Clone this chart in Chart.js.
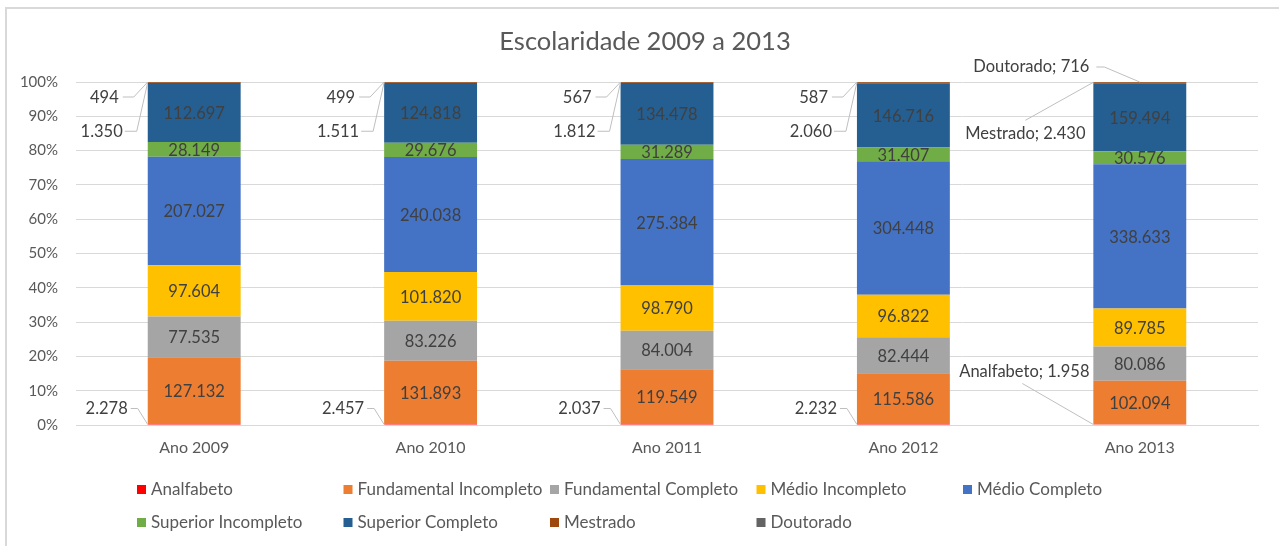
<!DOCTYPE html>
<html>
<head>
<meta charset="utf-8">
<script src="https://cdn.jsdelivr.net/npm/chart.js"></script>
<style>
  body { margin: 0; overflow: hidden; background: #fff; }
  #frame { position: absolute; left: 5px; top: 7px; width: 1400px; height: 700px;
           border-top: 2px solid #d9d9d9; border-left: 2px solid #d9d9d9; }
  #chart { position: absolute; left: 0; top: 0; }
</style>
</head>
<body>
<div id="frame"></div>
<canvas id="chart" width="1279" height="546"></canvas>
<script>
// data
const anos = ['Ano 2009', 'Ano 2010', 'Ano 2011', 'Ano 2012', 'Ano 2013'];
const analfabeto = [2278, 2457, 2037, 2232, 1958];
const fundIncompleto = [127132, 131893, 119549, 115586, 102094];
const fundCompleto = [77535, 83226, 84004, 82444, 80086];
const medioIncompleto = [97604, 101820, 98790, 96822, 89785];
const medioCompleto = [207027, 240038, 275384, 304448, 338633];
const supIncompleto = [28149, 29676, 31289, 31407, 30576];
const supCompleto = [112697, 124818, 134478, 146716, 159494];
const mestrado = [1350, 1511, 1812, 2060, 2430];
const doutorado = [494, 499, 567, 587, 716];
const yTicks = [0, 10, 20, 30, 40, 50, 60, 70, 80, 90, 100];
const titulo = 'Escolaridade 2009 a 2013';

const series = [
  { label: 'Analfabeto', raw: analfabeto, color: '#FF0000' },
  { label: 'Fundamental Incompleto', raw: fundIncompleto, color: '#ED7D31' },
  { label: 'Fundamental Completo', raw: fundCompleto, color: '#A5A5A5' },
  { label: 'Médio Incompleto', raw: medioIncompleto, color: '#FFC000' },
  { label: 'Médio Completo', raw: medioCompleto, color: '#4472C4' },
  { label: 'Superior Incompleto', raw: supIncompleto, color: '#70AD47' },
  { label: 'Superior Completo', raw: supCompleto, color: '#255E91' },
  { label: 'Mestrado', raw: mestrado, color: '#9E480E' },
  { label: 'Doutorado', raw: doutorado, color: '#636363' }
];

const totals = anos.map((a, j) => series.reduce((s, d) => s + d.raw[j], 0));

function fmt(n) {
  return String(n).replace(/\B(?=(\d{3})+(?!\d))/g, '.');
}

const FONT = 'Lato';
const TXT = '#595959';
const LBL = '#404040';

// value labels (inside bars, or with leader lines for the thin ones)
const labelPlugin = {
  id: 'valueLabels',
  afterDatasetsDraw(chart) {
    const ctx = chart.ctx;
    ctx.save();
    ctx.font = '16.5px ' + FONT;
    ctx.textBaseline = 'middle';
    ctx.strokeStyle = '#bfbfbf';
    ctx.lineWidth = 1;

    function line(pts) {
      ctx.beginPath();
      ctx.moveTo(pts[0][0], pts[0][1]);
      for (let k = 1; k < pts.length; k++) ctx.lineTo(pts[k][0], pts[k][1]);
      ctx.stroke();
    }
    function text(t, x, y, align) {
      ctx.textAlign = align;
      ctx.fillStyle = LBL;
      ctx.fillText(t, x, y);
    }

    chart.data.datasets.forEach((ds, i) => {
      const meta = chart.getDatasetMeta(i);
      meta.data.forEach((bar, j) => {
        const v = ds.raw[j];
        const left = bar.x - bar.width / 2;
        const top = bar.y, base = bar.base;
        const last = j === anos.length - 1;
        if (i >= 1 && i <= 6) {
          text(fmt(v), bar.x, (top + base) / 2 + 1, 'center');
        } else if (i === 0) {
          if (!last) {
            text(fmt(v), left - 20, base - 16, 'right');
            line([[left - 17, base - 16], [left - 10, base - 16], [left, base]]);
          } else {
            text(ds.label + '; ' + fmt(v), left - 69, base - 53, 'center');
            line([[left - 71, base - 41], [left, base]]);
          }
        } else if (i === 7) {
          if (!last) {
            text(fmt(v), left - 25, top + 49, 'right');
            line([[left - 23, top + 49], [left - 11, top + 49], [left, top]]);
          } else {
            text(ds.label + '; ' + fmt(v), left - 68, top + 51, 'center');
            line([[left - 68, top + 38], [left, top]]);
          }
        } else if (i === 8) {
          if (!last) {
            text(fmt(v), left - 29, top + 16, 'right');
            line([[left - 25, top + 15], [left - 14, top + 15], [left, top]]);
          } else {
            text(ds.label + '; ' + fmt(v), left - 4, top - 15, 'right');
            line([[left + 3, top - 15], [left + 11, top - 15], [bar.x, top]]);
          }
        }
      });
    });
    ctx.restore();
  }
};

// title and legend drawn by hand: the legend sits in fixed columns, two rows
const legendPlugin = {
  id: 'gridLegend',
  afterDraw(chart) {
    const ctx = chart.ctx;
    ctx.save();
    ctx.font = '25.5px ' + FONT;
    ctx.fillStyle = TXT;
    ctx.textAlign = 'center';
    ctx.textBaseline = 'middle';
    ctx.fillText(titulo, 645, 42);

    const colX = 137, colW = 206.5, rowY = [489, 522], perRow = 5;
    ctx.font = '17px ' + FONT;
    ctx.textAlign = 'left';
    chart.data.datasets.forEach((ds, i) => {
      const x = colX + (i % perRow) * colW;
      const y = rowY[Math.floor(i / perRow)];
      ctx.fillStyle = ds.backgroundColor;
      ctx.fillRect(x, y - 4, 9, 9);
      ctx.fillStyle = TXT;
      ctx.fillText(ds.label, x + 14, y + 1);
    });
    ctx.restore();
  }
};

new Chart(document.getElementById('chart'), {
  type: 'bar',
  data: {
    labels: anos,
    datasets: series.map(s => ({
      label: s.label,
      raw: s.raw,
      data: s.raw.map((v, j) => v / totals[j] * 100),
      backgroundColor: s.color,
      borderWidth: 0,
      categoryPercentage: 1,
      barPercentage: 0.393
    }))
  },
  options: {
    responsive: false,
    animation: false,
    layout: { padding: { left: 0, right: 21, top: 82, bottom: 76 } },
    plugins: {
      legend: { display: false },
      tooltip: { enabled: false },
      title: { display: false }
    },
    scales: {
      x: {
        stacked: true,
        grid: { display: false },
        border: { color: '#d9d9d9' },
        ticks: { color: TXT, font: { family: FONT, size: 16 }, padding: 5 },
        afterFit: s => { s.height = 45; }
      },
      y: {
        stacked: true,
        min: 0,
        max: 100,
        afterBuildTicks: s => { s.ticks = yTicks.map(v => ({ value: v })); },
        grid: { color: '#d9d9d9', drawTicks: false },
        border: { display: false },
        ticks: {
          color: TXT,
          font: { family: FONT, size: 15 },
          padding: 18,
          callback: v => v + '%'
        },
        afterFit: s => { s.width = 76; }
      }
    }
  },
  plugins: [labelPlugin, legendPlugin]
});
</script>
</body>
</html>
